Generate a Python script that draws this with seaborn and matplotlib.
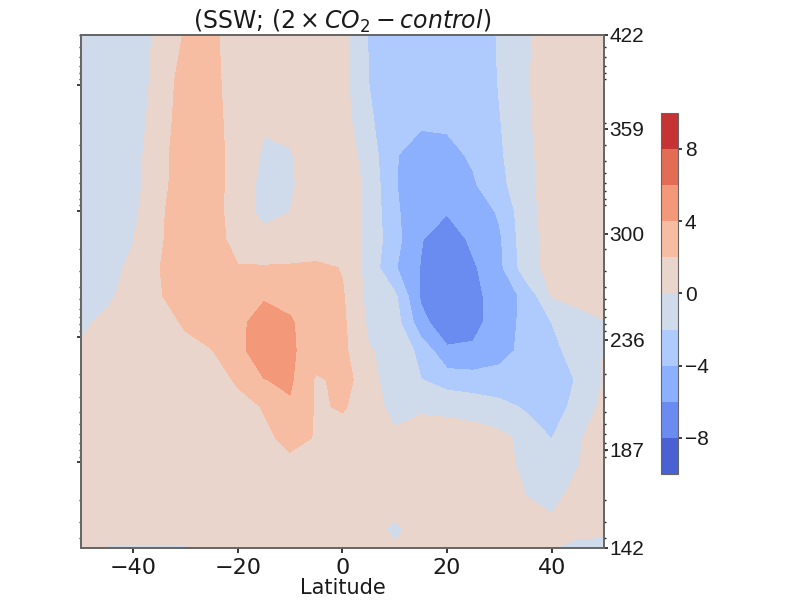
import numpy as np
import matplotlib
matplotlib.use("Agg")
import matplotlib.pyplot as plt
from matplotlib.ticker import NullFormatter
import seaborn as sns

# grid: latitude columns, pressure rows (hPa, top of plot first)
lat = [-50, -45, -40, -35, -30, -25, -20, -15, -10, -5, 0, 5, 10, 15, 20, 25, 30, 35, 40, 45, 50]
pres = [0.04, 0.094, 0.186, 0.359, 0.61, 1.02, 1.67, 2.84, 4.74, 7.77,
        12.97, 22.0, 36.1, 63.7, 102.6, 168, 343, 480]

# difference field, one list per pressure level
z_p0040 = [-1.2, -1.3, -1.2, 0.5, 2.2, 2.6, 0.5, 0.4, 0.4, 0.4, 0.8, -2.1, -3.0, -3.3, -3.3, -3.0, -1.85, -0.3, 0.9, 0.8, 0.7]
z_p0094 = [-1.2, -1.3, -1.0, 0.6, 3.0, 2.8, 0.6, 0.3, 0.3, 0.4, 0.7, -2.0, -3.2, -3.6, -3.7, -3.3, -1.9, -0.2, 0.9, 0.8, 0.7]
z_p0186 = [-1.2, -1.2, -0.8, 0.8, 3.2, 3.0, 0.7, 0.1, 0.15, 0.4, 0.8, -1.6, -3.7, -3.8, -3.8, -3.4, -2.1, -0.3, 0.9, 0.8, 0.7]
z_p0359 = [-1.2, -1.1, -0.6, 1.0, 3.6, 3.2, 0.8, -0.15, -0.05, 0.4, 1.2, -0.9, -3.9, -4.6, -4.4, -3.8, -2.3, -0.5, 0.9, 0.8, 0.7]
z_p0610 = [-1.2, -1.0, -0.5, 1.0, 3.7, 3.2, 0.7, -0.35, -0.1, 0.4, 1.2, -0.5, -3.9, -5.0, -5.3, -4.2, -2.6, -0.6, 0.9, 0.8, 0.7]
z_p1020 = [-1.2, -0.9, -0.4, 1.5, 3.7, 3.2, 0.6, -0.3, 0.0, 0.4, 1.2, -0.5, -3.6, -5.6, -5.9, -5.0, -3.8, -0.7, 0.8, 0.8, 0.7]
z_p1670 = [-1.2, -0.9, -0.05, 1.6, 3.7, 3.3, 0.9, 0.4, 0.4, 0.6, 1.2, -0.5, -3.3, -5.9, -7.0, -5.6, -4.3, -0.8, 0.7, 0.8, 0.7]
z_p2840 = [-1.0, -0.5, 0.3, 1.95, 3.6, 3.1, 2.2, 2.2, 2.3, 2.5, 1.9, -0.7, -3.8, -6.1, -7.5, -6.3, -4.5, -1.0, 0.7, 0.8, 0.7]
z_p4740 = [-0.8, -0.3, 0.6, 1.8, 3.3, 3.0, 3.0, 3.8, 3.6, 2.8, 2.2, -0.6, -1.6, -6.3, -7.8, -6.6, -5.0, -3.6, 0.1, 0.3, 0.6]
z_p7770 = [-0.3, 0.4, 0.8, 1.3, 2.2, 3.0, 3.5, 4.9, 4.2, 3.0, 2.4, -0.3, -1.0, -5.2, -7.6, -6.6, -5.0, -3.5, -2.0, -0.5, -0.1]
z_p12970 = [0.3, 0.6, 0.8, 1.0, 1.4, 1.9, 3.5, 5.0, 4.3, 3.0, 2.5, 0.1, -0.4, -2.6, -5.5, -5.6, -4.8, -3.4, -2.4, -1.4, 0.05]
z_p22000 = [0.4, 0.6, 0.7, 0.8, 1.0, 1.3, 2.2, 3.95, 4.3, 1.7, 2.5, 1.3, -1.9, -1.95, -2.8, -3.0, -2.9, -2.7, -2.6, -1.9, 0.1]
z_p36100 = [0.5, 0.6, 0.6, 0.6, 0.7, 0.9, 1.4, 2.1, 3.7, 1.8, 2.15, 1.3, -0.87, -0.3, -0.4, -0.8, -1.5, -2.2, -2.6, -1.6, 0.6]
z_p63700 = [0.6, 0.7, 0.7, 0.7, 0.7, 0.8, 1.0, 1.6, 2.5, 1.9, 1.2, 0.9, 0.6, 1.2, 1.0, 1.1, 0.7, -0.8, -2.05, -0.1, 0.4]
z_p102600 = [0.6, 0.6, 0.6, 0.6, 0.6, 0.7, 0.8, 1.1, 1.5, 1.2, 1.0, 0.8, 0.7, 0.8, 0.8, 0.8, 0.8, -0.5, -1.2, -0.05, 0.6]
z_p168000 = [0.6, 0.6, 0.6, 0.6, 0.6, 0.6, 0.7, 0.8, 1.0, 0.9, 0.8, 0.7, 0.6, 0.7, 0.7, 0.7, 0.5, -0.03, -0.4, 0.3, 0.5]
z_p343000 = [0.7, 0.7, 0.7, 0.7, 0.7, 0.7, 0.7, 0.8, 0.9, 0.8, 0.7, 0.5, -0.25, 0.5, 0.6, 0.6, 0.5, 0.3, 0.4, 0.35, 0.3]
z_p480000 = [-0.05, -0.1, -0.12, -0.12, -0.1, -0.05, 0.3, 0.5, 0.6, 0.6, 0.6, 0.5, 0.2, 0.4, 0.5, 0.5, 0.5, 0.3, 0.05, -0.4, -0.5]

levels = list(range(-10, 11, 2))
cbar_ticks = [-8, -4, 0, 4, 8]
xticks = [-40, -20, 0, 20, 40]

# potential temperature labels on the right axis and where they sit in pressure
theta_labels = [142, 187, 236, 300, 359, 422]
theta_pres = [480, 79.4, 10.6, 1.52, 0.223, 0.04]

field = np.array([z_p0040, z_p0094, z_p0186, z_p0359, z_p0610, z_p1020, z_p1670,
                  z_p2840, z_p4740, z_p7770, z_p12970, z_p22000, z_p36100,
                  z_p63700, z_p102600, z_p168000, z_p343000, z_p480000])

sns.set_theme(style="ticks")
plt.rcParams["font.family"] = ["DejaVu Sans"]
plt.rcParams["axes.edgecolor"] = "0.4"
plt.rcParams["xtick.major.size"] = 3.5
plt.rcParams["ytick.major.size"] = 3
plt.rcParams["ytick.minor.size"] = 1.5

cmap = sns.color_palette("coolwarm", as_cmap=True)

fig = plt.figure(figsize=(8, 6), dpi=100)
ax = fig.add_axes([0.101, 0.0867, 0.654, 0.855])

cf = ax.contourf(lat, pres, field, levels=levels, cmap=cmap, vmin=-10, vmax=10)
ax.set_yscale("log")
ax.set_ylim(480, 0.04)
ax.set_xlim(-50, 50)
ax.set_xticks(xticks)
ax.tick_params(axis="x", labelsize=16, colors="0.1", pad=4)
ax.tick_params(axis="y", which="both", labelleft=False)
ax.set_xlabel("Latitude", fontsize=15, labelpad=0, color="0.1")
ax.set_title(r"(SSW; $(2\times CO_2 - control)$", fontsize=17, pad=3, color="0.1")

ax2 = ax.twinx()
ax2.set_yscale("log")
ax2.set_ylim(480, 0.04)
ax2.set_yticks(theta_pres)
ax2.set_yticklabels([str(t) for t in theta_labels], fontsize=15,
                    family="Liberation Sans", color="0.1")
ax2.yaxis.set_minor_formatter(NullFormatter())
ax2.tick_params(axis="y", which="major", pad=1)

cax = fig.add_axes([0.826, 0.21, 0.0213, 0.602])
cb = fig.colorbar(cf, cax=cax, ticks=cbar_ticks)
cb.outline.set_linewidth(0.8)
cax.tick_params(length=3, pad=2)
for lab in cax.get_yticklabels():
    lab.set_family("Liberation Sans")
    lab.set_fontsize(15)
    lab.set_color("0.1")

fig.savefig("out.png", dpi=100)
